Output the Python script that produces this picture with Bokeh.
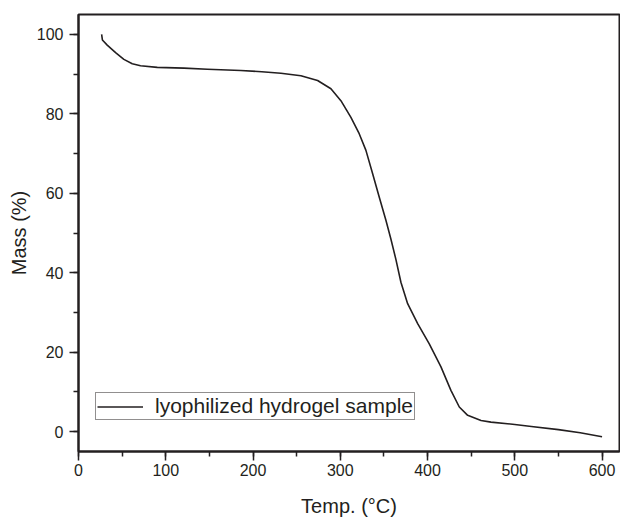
from bokeh.plotting import figure
from bokeh.models import SingleIntervalTicker, Range1d, Legend, LegendItem
from bokeh.embed import file_html
from bokeh.resources import INLINE

temp = [26.5, 27.4, 32.9, 42.5, 52.0, 61.6, 71.1, 90.3, 120.9, 147.7, 186,
        210, 232, 254.9, 274, 289.3, 300.7, 312.2, 321.7, 329.4, 337.1, 344.7,
        352.3, 358, 363.8, 369.5, 377.2, 388.7, 402, 415.4, 426.8, 436.4, 446,
        461.3, 472.7, 500, 519, 550, 575, 600]
mass = [100.0, 98.6, 97.3, 95.4, 93.7, 92.6, 92.1, 91.7, 91.5, 91.2, 90.9,
        90.6, 90.2, 89.6, 88.4, 86.3, 83.3, 79.1, 75.0, 70.8, 64.9, 59.0,
        53.2, 48.5, 43.3, 37.6, 32.2, 27.2, 22.1, 16.3, 10.4, 6.2, 4.1,
        2.8, 2.4, 1.8, 1.3, 0.5, -0.3, -1.3]
series_name = "lyophilized hydrogel sample"
x_label = "Temp. (°C)"
y_label = "Mass (%)"

FONT = "Liberation Sans"
TXT = "#231f20"

p = figure(width=620, height=519, output_backend="svg", toolbar_location=None,
           x_range=Range1d(0, 620), y_range=Range1d(-5, 105),
           min_border_left=78, min_border_right=1, min_border_top=14,
           min_border_bottom=68)
p.grid.visible = False
p.background_fill_color = "white"
p.border_fill_color = "white"
p.outline_line_color = TXT
p.outline_line_width = 2

r = p.line(temp, mass, line_color=TXT, line_width=1.6, line_join="round")

for ax, ticker in ((p.xaxis, SingleIntervalTicker(interval=100, num_minor_ticks=2)),
                   (p.yaxis, SingleIntervalTicker(interval=20, num_minor_ticks=2))):
    ax.ticker = ticker
    ax.axis_line_color = TXT
    ax.axis_line_width = 2
    ax.major_tick_line_color = TXT
    ax.minor_tick_line_color = TXT
    ax.major_tick_line_width = 1.5
    ax.minor_tick_line_width = 1.5
    ax.major_tick_out = 9
    ax.major_tick_in = 0
    ax.minor_tick_out = 5
    ax.minor_tick_in = 0
    ax.major_label_text_font = FONT
    ax.major_label_text_font_size = "16px"
    ax.major_label_text_color = TXT
    ax.axis_label_text_font = FONT
    ax.axis_label_text_font_size = "20px"
    ax.axis_label_text_font_style = "normal"
    ax.axis_label_text_color = TXT

p.xaxis.axis_label = x_label
p.yaxis.axis_label = y_label
p.xaxis.major_label_standoff = 3
p.xaxis.axis_label_standoff = 16
p.yaxis.major_label_standoff = 6
p.yaxis.axis_label_standoff = 4

legend = Legend(items=[LegendItem(label=series_name, renderers=[r])],
                location=(17, 31), margin=0, padding=1, spacing=0,
                glyph_width=46, glyph_height=21, label_height=21,
                label_standoff=12,
                label_text_font=FONT, label_text_font_size="21px",
                label_text_color=TXT,
                border_line_color=TXT, border_line_width=1.8,
                background_fill_alpha=0)
p.add_layout(legend)

open("out.html", "w").write(file_html(p, INLINE))
